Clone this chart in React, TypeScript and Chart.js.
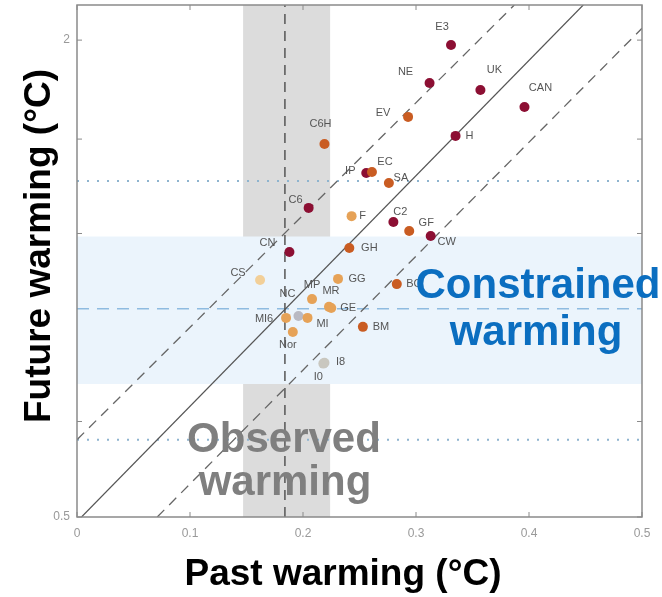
import React, { useEffect, useRef } from "react";
import { Chart, registerables } from "chart.js";

Chart.register(...registerables);

// ---------- data ----------
const modelNames = ["E3", "NE", "UK", "CAN", "EV", "H", "C6H", "IP", "EC", "SA", "C6", "F", "C2", "GF", "CW", "CN", "GH", "CS", "GG", "BC", "MP", "MR", "GE", "NC", "MI6", "MI", "Nor", "BM", "I8", "I0"];
const pastWarming = [0.331, 0.312, 0.357, 0.396, 0.293, 0.335, 0.219, 0.256, 0.261, 0.276, 0.205, 0.243, 0.28, 0.294, 0.313, 0.188, 0.241, 0.162, 0.231, 0.283, 0.208, 0.223, 0.225, 0.196, 0.185, 0.204, 0.191, 0.253, 0.219, 0.218];
const futureWarming = [1.972, 1.766, 1.73, 1.647, 1.6, 1.514, 1.479, 1.359, 1.363, 1.32, 1.228, 1.199, 1.179, 1.148, 1.132, 1.08, 1.093, 0.996, 0.999, 0.984, 0.942, 0.921, 0.918, 0.897, 0.892, 0.892, 0.856, 0.869, 0.783, 0.781];
const modelGroup = ["m", "m", "m", "m", "o", "m", "o", "m", "o", "o", "m", "l", "m", "o", "m", "m", "o", "p", "l", "o", "l", "l", "l", "g", "l", "l", "l", "o", "s", "s"];

const xRange = [0, 0.5];
const yRange = [0.5, 2.215];
const xTickValues = [0, 0.1, 0.2, 0.3, 0.4, 0.5];
const xTickLabels = ["0", "0.1", "0.2", "0.3", "0.4", "0.5"];
const yTickValues = [0.5, 0.66, 1.14, 1.5, 2];
const yTickLabels = ["0.5", "", "", "", "2"];

const observedRange = [0.147, 0.224];
const observedBest = 0.184;
const constrainedRange = [0.736, 1.13];
const constrainedBest = 0.916;
const likelyBounds = [0.626, 1.328];

const fitLineX = [0.004, 0.448];
const fitLineY = [0.5, 2.215];
const upperLineX = [0, 0.387];
const upperLineY = [0.626, 2.215];
const lowerLineX = [0.071, 0.5];
const lowerLineY = [0.5, 2.07];

// ---------- styling (not data) ----------
const groupColors: Record<string, string> = {
  m: "#8c0f33",
  o: "#c95c22",
  l: "#e6a257",
  p: "#f2cf98",
  g: "#b9b9c2",
  s: "#c9c7bf",
};
const labelOffsets: number[][] = [
  [-9, -18], [-24, -11], [14, -20], [16, -19], [-25, -4], [14, 0], [-4, -20], [-16, -2], [13, -10], [12, -5],
  [-13, -8], [11, 0], [7, -10], [17, -8], [16, 6], [-22, -9], [20, 0], [-22, -7], [19, 0], [17, 0],
  [0, -14], [2, -16], [17, 0], [-11, -22], [-22, 1], [15, 6], [-5, 13], [18, 0], [16, -1], [-5, 13],
];

const FONT = "'Liberation Sans', Arial, Helvetica, sans-serif";

const line = (xs: number[], ys: number[]) => xs.map((x, i) => ({ x, y: ys[i] }));

const overlayPlugin = {
  id: "overlay",
  beforeDatasetsDraw(chart: any) {
    const { ctx, chartArea: a, scales } = chart;
    const xs = scales.x, ys = scales.y;
    ctx.save();
    ctx.beginPath();
    ctx.rect(a.left, a.top, a.right - a.left, a.bottom - a.top);
    ctx.clip();
    // observed band
    const x0 = xs.getPixelForValue(observedRange[0]);
    const x1 = xs.getPixelForValue(observedRange[1]);
    ctx.fillStyle = "#dcdcdc";
    ctx.fillRect(x0, a.top, x1 - x0, a.bottom - a.top);
    // constrained band
    const y0 = ys.getPixelForValue(constrainedRange[1]);
    const y1 = ys.getPixelForValue(constrainedRange[0]);
    ctx.fillStyle = "#ebf4fc";
    ctx.fillRect(a.left, y0, a.right - a.left, y1 - y0);
    ctx.restore();
  },
  afterDatasetsDraw(chart: any) {
    const { ctx, chartArea: a, scales } = chart;
    const xs = scales.x, ys = scales.y;
    ctx.save();
    // frame
    ctx.strokeStyle = "#8a8a8a";
    ctx.lineWidth = 1.5;
    ctx.strokeRect(a.left, a.top, a.right - a.left, a.bottom - a.top);
    // inward ticks
    ctx.lineWidth = 1;
    ctx.beginPath();
    xTickValues.forEach((v) => {
      const px = xs.getPixelForValue(v);
      ctx.moveTo(px, a.bottom); ctx.lineTo(px, a.bottom - 5);
      ctx.moveTo(px, a.top); ctx.lineTo(px, a.top + 5);
    });
    yTickValues.forEach((v) => {
      const py = ys.getPixelForValue(v);
      ctx.moveTo(a.left, py); ctx.lineTo(a.left + 5, py);
      ctx.moveTo(a.right, py); ctx.lineTo(a.right - 5, py);
    });
    ctx.stroke();
    // point labels
    ctx.font = `11px ${FONT}`;
    ctx.fillStyle = "#555";
    ctx.textAlign = "center";
    ctx.textBaseline = "middle";
    modelNames.forEach((name, i) => {
      const px = xs.getPixelForValue(pastWarming[i]);
      const py = ys.getPixelForValue(futureWarming[i]);
      const off = labelOffsets[i];
      ctx.fillText(name, px + off[0], py + off[1]);
    });
    ctx.restore();
  },
  afterDraw(chart: any) {
    const { ctx } = chart;
    ctx.save();
    ctx.textAlign = "center";
    ctx.textBaseline = "alphabetic";
    ctx.font = `bold 42px ${FONT}`;
    ctx.fillStyle = "#0b6ec0";
    ctx.fillText("Constrained", 538, 298);
    ctx.fillText("warming", 536, 345);
    ctx.fillStyle = "#7f7f7f";
    ctx.fillText("Observed", 284, 452);
    ctx.fillText("warming", 285, 495);
    // axis titles
    ctx.font = `bold 37px ${FONT}`;
    ctx.fillStyle = "#000";
    ctx.fillText("Past warming (°C)", 343, 585);
    ctx.translate(50, 246);
    ctx.rotate(-Math.PI / 2);
    ctx.fillText("Future warming (°C)", 0, 0);
    ctx.restore();
  },
};

export default function App() {
  const ref = useRef<HTMLCanvasElement | null>(null);
  useEffect(() => {
    if (!ref.current) return;
    const dashedGrey = { borderColor: "#666", borderWidth: 1.3, borderDash: [10, 7], pointRadius: 0, showLine: true };
    const chart = new Chart(ref.current, {
      type: "scatter",
      data: {
        datasets: [
          {
            label: "Models",
            data: pastWarming.map((x, i) => ({ x, y: futureWarming[i] })),
            pointRadius: 5,
            pointBorderWidth: 0,
            pointBackgroundColor: modelGroup.map((g) => groupColors[g]),
            pointBorderColor: modelGroup.map((g) => groupColors[g]),
          },
          { label: "fit", data: line(fitLineX, fitLineY), showLine: true, borderColor: "#555", borderWidth: 1.2, pointRadius: 0 },
          { label: "upper", data: line(upperLineX, upperLineY), ...dashedGrey },
          { label: "lower", data: line(lowerLineX, lowerLineY), ...dashedGrey },
          { label: "observed", data: line([observedBest, observedBest], yRange), ...dashedGrey, borderColor: "#555", borderWidth: 1.5 },
          { label: "constrained", data: line(xRange, [constrainedBest, constrainedBest]), showLine: true, borderColor: "#8fbbe0", borderWidth: 1.5, borderDash: [12, 8], pointRadius: 0 },
          { label: "likely-lo", data: line(xRange, [likelyBounds[0], likelyBounds[0]]), showLine: true, borderColor: "#8eb4cf", borderWidth: 2, borderDash: [2, 8], pointRadius: 0 },
          { label: "likely-hi", data: line(xRange, [likelyBounds[1], likelyBounds[1]]), showLine: true, borderColor: "#8eb4cf", borderWidth: 2, borderDash: [2, 8], pointRadius: 0 },
        ],
      },
      options: {
        responsive: false,
        animation: false,
        devicePixelRatio: 1,
        events: [],
        layout: { padding: { top: 5, right: 20, left: 0, bottom: 0 } },
        plugins: { legend: { display: false }, tooltip: { enabled: false } },
        scales: {
          x: {
            type: "linear",
            min: xRange[0],
            max: xRange[1],
            grid: { display: false, drawTicks: false },
            border: { display: false },
            afterBuildTicks: (s: any) => { s.ticks = xTickValues.map((value) => ({ value })); },
            afterFit: (s: any) => { s.height = 80; s.paddingLeft = 0; s.paddingRight = 0; },
            ticks: {
              autoSkip: false,
              maxRotation: 0,
              padding: 9,
              color: "#999",
              font: { family: FONT, size: 12 },
              callback: (_v: any, i: number) => xTickLabels[i],
            },
          },
          y: {
            type: "logarithmic",
            min: yRange[0],
            max: yRange[1],
            grid: { display: false, drawTicks: false },
            border: { display: false },
            afterBuildTicks: (s: any) => { s.ticks = yTickValues.map((value) => ({ value })); },
            afterFit: (s: any) => { s.width = 77; s.paddingTop = 0; s.paddingBottom = 0; },
            ticks: {
              autoSkip: false,
              padding: 7,
              color: "#999",
              font: { family: FONT, size: 12 },
              callback: (_v: any, i: number) => yTickLabels[i],
            },
          },
        },
      } as any,
      plugins: [overlayPlugin],
    });
    return () => chart.destroy();
  }, []);
  return (
    <div style={{ position: "absolute", left: 0, top: 0, width: 662, height: 597, background: "#fff" }}>
      <canvas ref={ref} width={662} height={597} />
    </div>
  );
}
